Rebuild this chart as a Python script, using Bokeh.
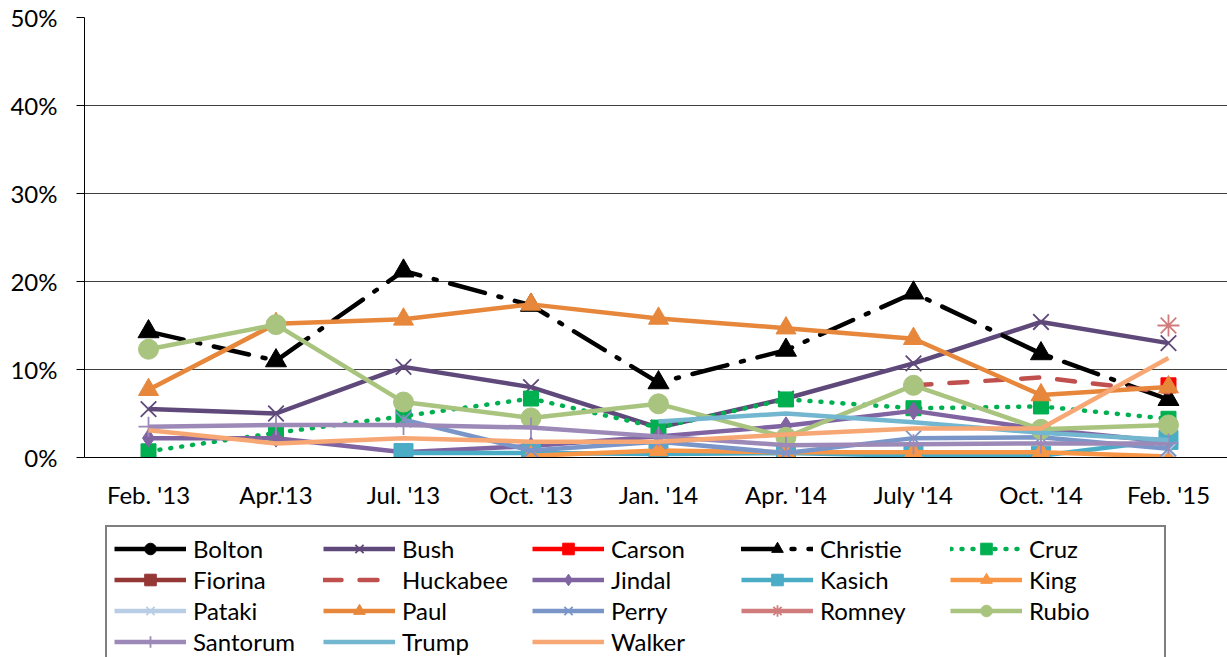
import math
from bokeh.plotting import figure
from bokeh.layouts import column
from bokeh.models import Range1d, FixedTicker, Legend, LegendItem
from bokeh.embed import file_html
from bokeh.resources import INLINE

nan = math.nan

periods = ["Feb. '13", "Apr.'13", "Jul. '13", "Oct. '13", "Jan. '14",
           "Apr. '14", "July '14", "Oct. '14", "Feb. '15"]

# poll shares in percent
bolton   = [nan, nan, nan, nan, nan, nan, nan, nan, nan]
bush     = [5.5, 5.0, 10.3, 8.0, 3.4, 6.7, 10.7, 15.4, 13.0]
carson   = [nan, nan, nan, nan, nan, nan, nan, nan, 8.2]
christie = [14.3, 11.0, 21.2, 17.3, 8.5, 12.2, 18.7, 11.8, 6.6]
cruz     = [0.7, 2.8, 4.7, 6.7, 3.4, 6.6, 5.6, 5.8, 4.4]
fiorina  = [nan, nan, nan, nan, nan, nan, nan, nan, nan]
huckabee = [nan, nan, nan, nan, nan, nan, 8.2, 9.1, 7.4]
jindal   = [2.2, 2.2, 0.6, 1.3, 2.4, 3.6, 5.3, 3.2, 1.8]
kasich   = [nan, nan, 0.5, 0.5, 0.4, 0.5, 0.2, 0.2, 2.0]
king     = [nan, nan, nan, 0.2, 0.8, 0.6, 0.6, 0.6, 0.1]
pataki   = [nan, nan, nan, nan, nan, nan, nan, nan, 0.8]
paul     = [7.7, 15.2, 15.7, 17.4, 15.8, 14.7, 13.5, 7.1, 8.0]
perry    = [nan, nan, 4.3, 0.8, 1.8, 0.5, 2.2, 2.3, 1.0]
romney   = [nan, nan, nan, nan, nan, nan, nan, nan, 15.0]
rubio    = [12.3, 15.1, 6.3, 4.5, 6.1, 2.3, 8.2, 3.2, 3.7]
santorum = [3.5, 3.7, 3.7, 3.4, 2.4, 1.4, 1.5, 1.6, 1.6]
trump    = [nan, nan, nan, nan, 4.1, 5.0, 4.0, 2.8, 2.0]
walker   = [3.1, 1.6, 2.2, 1.8, 1.8, 2.6, 3.3, 3.3, 11.3]

y_ticks = [0, 10, 20, 30, 40, 50]
y_labels = ["0%", "10%", "20%", "30%", "40%", "50%"]

series = [
    ("Bolton", bolton, "#000000", "solid", "circle", 17),
    ("Bush", bush, "#5F497A", "solid", "x", 22),
    ("Carson", carson, "#FF0000", "solid", "square", 15),
    ("Christie", christie, "#000000", "36 14 3 14", "triangle", 21),
    ("Cruz", cruz, "#00B050", "1 10", "square", 15),
    ("Fiorina", fiorina, "#953735", "solid", "square", 15),
    ("Huckabee", huckabee, "#C0504D", "18 18", None, 0),
    ("Jindal", jindal, "#8064A2", "solid", "diamond", 18),
    ("Kasich", kasich, "#4BACC6", "solid", "square", 19),
    ("King", king, "#F79646", "solid", "triangle", 18),
    ("Pataki", pataki, "#B9CDE5", "solid", "x", 22),
    ("Paul", paul, "#E6873C", "solid", "triangle", 20),
    ("Perry", perry, "#7A96C8", "solid", "x", 22),
    ("Romney", romney, "#D07C7C", "solid", "asterisk", 22),
    ("Rubio", rubio, "#A9C47F", "solid", "circle", 20),
    ("Santorum", santorum, "#9C89B8", "solid", "cross", 20),
    ("Trump", trump, "#72B6CF", "solid", None, 0),
    ("Walker", walker, "#F7A774", "solid", None, 0),
]

FONT = "Lato"
FS = "24px"


def draw(fig, xs, vals, color, dash, marker, size):
    rs = [fig.line(xs, vals, line_color=color, line_width=4.5,
                   line_dash=dash,
                   line_cap="round" if dash != "solid" else "butt",
                   line_join="round")]
    if marker is not None:
        if marker in ("x", "asterisk", "cross"):
            rs.append(fig.scatter(xs, vals, marker=marker, size=size,
                                  line_color=color, line_width=1.8))
        else:
            rs.append(fig.scatter(xs, vals, marker=marker, size=size,
                                  fill_color=color, line_color=color,
                                  line_width=1))
    return rs


p = figure(width=1227, height=525, output_backend="svg", toolbar_location=None,
           x_range=Range1d(-0.502, 8.463), y_range=Range1d(0, 50),
           min_border_left=84, min_border_top=17, min_border_right=0,
           min_border_bottom=68)
p.outline_line_color = None

xs = list(range(len(periods)))
for name, vals, color, dash, marker, size in series:
    draw(p, xs, vals, color, dash, marker, size)

p.xaxis.ticker = FixedTicker(ticks=xs)
p.xaxis.major_label_overrides = {i: lab for i, lab in enumerate(periods)}
p.xaxis.major_tick_out = 0
p.xaxis.major_tick_in = 0
p.xaxis.minor_tick_line_color = None
p.xaxis.major_label_standoff = 22
p.xaxis.axis_line_color = "#000000"
p.xaxis.major_label_text_font = FONT
p.xaxis.major_label_text_font_size = FS
p.xaxis.major_label_text_color = "#000000"

p.yaxis.ticker = FixedTicker(ticks=y_ticks)
p.yaxis.major_label_overrides = {t: l for t, l in zip(y_ticks, y_labels)}
p.yaxis.major_tick_out = 8
p.yaxis.major_tick_in = 0
p.yaxis.minor_tick_line_color = None
p.yaxis.major_label_standoff = 19
p.yaxis.axis_line_color = "#000000"
p.yaxis.major_tick_line_color = "#000000"
p.yaxis.major_label_text_font = FONT
p.yaxis.major_label_text_font_size = FS
p.yaxis.major_label_text_color = "#000000"

p.xgrid.grid_line_color = None
p.ygrid.grid_line_color = "#404040"
p.ygrid.grid_line_width = 1

# legend panel: the series are drawn again off-screen so that the legend
# has glyphs to sample; the visible ranges lie far away from the data
lg = figure(width=1227, height=132, output_backend="svg", toolbar_location=None,
            x_range=Range1d(1000, 1100), y_range=Range1d(1000, 1100),
            min_border_left=84, min_border_right=0, min_border_top=0,
            min_border_bottom=0, x_axis_type=None, y_axis_type=None)
lg.outline_line_color = None
lg.xgrid.grid_line_color = None
lg.ygrid.grid_line_color = None

items = []
for name, vals, color, dash, marker, size in series:
    rs = draw(lg, xs, vals, color, dash, marker, size)
    items.append(LegendItem(label=name, renderers=rs))

legend = Legend(items=items, ncols=5, location=(21, -8),
                orientation="horizontal")
legend.label_text_font = FONT
legend.label_text_font_size = FS
legend.label_text_color = "#000000"
legend.glyph_width = 72
legend.glyph_height = 29
legend.label_height = 29
legend.label_width = 128
legend.label_standoff = 7
legend.spacing = 2
legend.padding = 7
legend.margin = 0
legend.border_line_color = "#000000"
legend.border_line_width = 2
legend.background_fill_alpha = 1
lg.add_layout(legend, "center")

layout = column(p, lg, spacing=0)
open("out.html", "w").write(file_html(layout, INLINE))
